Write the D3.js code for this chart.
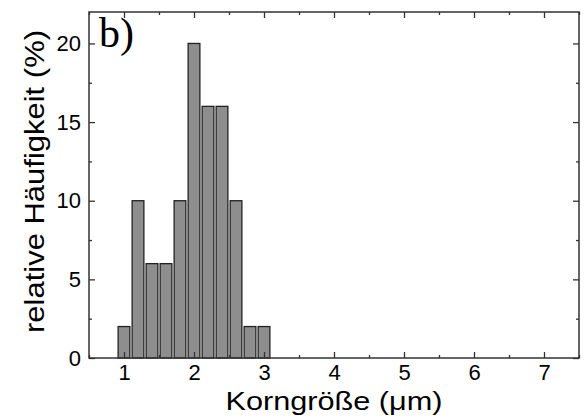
<!DOCTYPE html>
<html>
<head>
<meta charset="utf-8">
<script src="https://cdn.jsdelivr.net/npm/d3@7"></script>
<style>
  html, body { margin: 0; padding: 0; background: #fff; }
  svg { display: block; }
</style>
</head>
<body>
<div id="chart"></div>
<script>
// ---- data ----
const binCenters = [1.0, 1.2, 1.4, 1.6, 1.8, 2.0, 2.2, 2.4, 2.6, 2.8, 3.0];
const frequencies = [2, 10, 6, 6, 10, 20, 16, 16, 10, 2, 2];
const xTickValues = [1, 2, 3, 4, 5, 6, 7];
const yTickValues = [0, 5, 10, 15, 20];
const xTitle = "Korngröße (\u03BCm)";
const yTitle = "relative Häufigkeit (%)";
const panelLabel = "b)";

// ---- layout ----
const W = 585, H = 420;
const m = { left: 89, right: 6, top: 12, bottom: 62 };
const binWidth = 0.2, barFrac = 0.84;

const svg = d3.select("#chart").append("svg").attr("width", W).attr("height", H);

const x = d3.scaleLinear().domain([0.5, 7.5]).range([m.left, W - m.right]);
const y = d3.scaleLinear().domain([0, 22]).range([H - m.bottom, m.top]);

// bars
const bw = x(binWidth * barFrac) - x(0);
svg.append("g").selectAll("rect").data(binCenters).join("rect")
  .attr("x", (d) => x(d) - bw / 2)
  .attr("y", (d, i) => y(frequencies[i]))
  .attr("width", bw)
  .attr("height", (d, i) => y(0) - y(frequencies[i]))
  .attr("fill", "#8e8e8e")
  .attr("stroke", "#222")
  .attr("stroke-width", 1.3);

const axisColor = "#333";
const xMinor = d3.range(0.5, 7.51, 0.5).filter(v => !xTickValues.includes(v));
const yMinor = d3.range(0, 22.01, 2.5).filter(v => !yTickValues.includes(v));

function styleAxis(g) {
  g.select(".domain").remove();
  g.selectAll(".tick line").attr("stroke", axisColor).attr("stroke-width", 1.3);
  g.selectAll("text").attr("font-family", "Liberation Sans, Arial, sans-serif")
    .attr("font-size", 22).attr("fill", "#000");
}

// bottom
svg.append("g").attr("transform", `translate(0,${y(0)})`)
  .call(d3.axisBottom(x).tickValues(xTickValues).tickFormat(d3.format("d")).tickSizeInner(-6).tickSizeOuter(0).tickPadding(6))
  .call(styleAxis);
svg.append("g").attr("transform", `translate(0,${y(0)})`)
  .call(d3.axisBottom(x).tickValues(xMinor).tickFormat("").tickSizeInner(-3).tickSizeOuter(0))
  .call(styleAxis);
// top
svg.append("g").attr("transform", `translate(0,${y(22)})`)
  .call(d3.axisTop(x).tickValues(xTickValues).tickFormat("").tickSizeInner(-6).tickSizeOuter(0))
  .call(styleAxis);
svg.append("g").attr("transform", `translate(0,${y(22)})`)
  .call(d3.axisTop(x).tickValues(xMinor).tickFormat("").tickSizeInner(-3).tickSizeOuter(0))
  .call(styleAxis);
// left
svg.append("g").attr("transform", `translate(${x(0.5)},0)`)
  .call(d3.axisLeft(y).tickValues(yTickValues).tickFormat(d3.format("d")).tickSizeInner(-6).tickSizeOuter(0).tickPadding(8))
  .call(styleAxis);
svg.append("g").attr("transform", `translate(${x(0.5)},0)`)
  .call(d3.axisLeft(y).tickValues(yMinor).tickFormat("").tickSizeInner(-3).tickSizeOuter(0))
  .call(styleAxis);
// right
svg.append("g").attr("transform", `translate(${x(7.5)},0)`)
  .call(d3.axisRight(y).tickValues(yTickValues).tickFormat("").tickSizeInner(-6).tickSizeOuter(0))
  .call(styleAxis);
svg.append("g").attr("transform", `translate(${x(7.5)},0)`)
  .call(d3.axisRight(y).tickValues(yMinor).tickFormat("").tickSizeInner(-3).tickSizeOuter(0))
  .call(styleAxis);

// frame
svg.append("rect")
  .attr("x", x(0.5)).attr("y", y(22))
  .attr("width", x(7.5) - x(0.5)).attr("height", y(0) - y(22))
  .attr("fill", "none").attr("stroke", axisColor).attr("stroke-width", 1.5);

// titles
svg.append("text")
  .attr("x", (x(0.5) + x(7.5)) / 2).attr("y", 410)
  .attr("text-anchor", "middle")
  .attr("font-family", "Liberation Sans, Arial, sans-serif")
  .attr("font-size", 26)
  .attr("textLength", 217).attr("lengthAdjust", "spacingAndGlyphs")
  .text(xTitle);

svg.append("text")
  .attr("transform", `translate(43.5,${181.5}) rotate(-90)`)
  .attr("text-anchor", "middle")
  .attr("font-family", "Liberation Sans, Arial, sans-serif")
  .attr("font-size", 27)
  .attr("textLength", 303).attr("lengthAdjust", "spacingAndGlyphs")
  .text(yTitle);

// panel label
svg.append("text")
  .attr("x", 99).attr("y", 47)
  .attr("font-family", "Liberation Serif, Times New Roman, serif")
  .attr("font-size", 42)
  .text(panelLabel);
</script>
</body>
</html>
